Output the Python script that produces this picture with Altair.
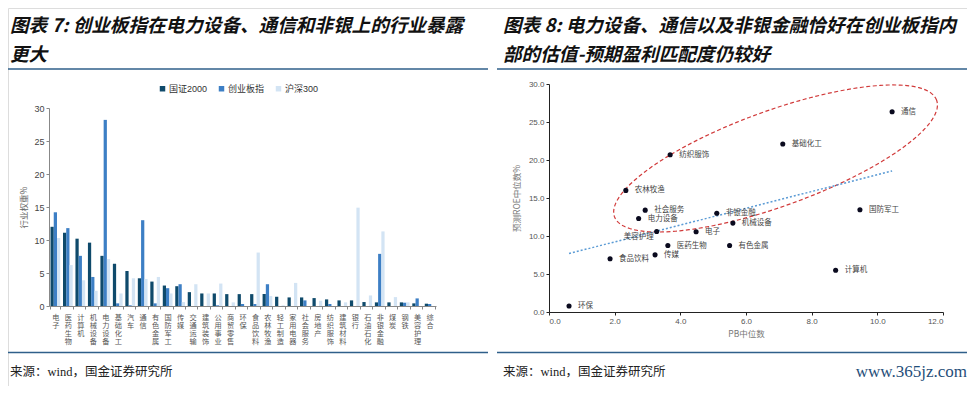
import altair as alt
import pandas as pd

# ---------------- data ----------------
categories = ["电子", "医药生物", "计算机", "机械设备", "电力设备", "基础化工", "汽车", "通信",
              "有色金属", "国防军工", "传媒", "交通运输", "建筑装饰", "公用事业", "商贸零售", "环保",
              "食品饮料", "农林牧渔", "轻工制造", "家用电器", "社会服务", "房地产", "纺织服饰",
              "建筑材料", "银行", "石油石化", "非银金融", "煤炭", "钢铁", "美容护理", "综合"]
guozheng2000 = [12.0, 11.1, 10.2, 9.6, 7.6, 6.4, 5.3, 4.2, 3.7, 3.1, 3.0, 2.1, 1.9, 1.9, 1.8, 1.8,
                1.8, 1.8, 1.4, 1.3, 1.3, 1.2, 1.0, 0.85, 0.85, 0.6, 0.55, 0.55, 0.55, 0.4, 0.35]
chuangye = [14.2, 11.8, 7.6, 4.4, 28.2, 0.4, 0.1, 13.0, 0.4, 2.7, 3.3, 0.0, 0.0, 0.1, 0.0, 0.3,
            0.3, 3.3, 0.0, 0.0, 0.85, 0.0, 0.3, 0.0, 0.0, 0.0, 7.9, 0.0, 0.5, 1.15, 0.3]
hushen300 = [10.3, 6.2, 3.9, 2.3, 7.1, 1.9, 4.2, 4.1, 4.4, 1.9, 0.6, 3.3, 1.9, 3.4, 0.55, 0.0,
             8.1, 1.5, 0.1, 3.5, 0.0, 0.8, 0.0, 0.55, 14.9, 1.6, 11.3, 1.35, 0.55, 0.0, 0.0]
series_names = ["国证2000", "创业板指", "沪深300"]
series_colors = ["#0f4a6b", "#3d7fc5", "#d3e4f4"]

sw_names = ["通信", "基础化工", "纺织服饰", "农林牧渔", "社会服务", "电力设备", "美容护理", "非银金融",
            "机械设备", "电子", "国防军工", "医药生物", "有色金属", "传媒", "食品饮料", "计算机", "环保"]
pb_median = [10.45, 7.12, 3.69, 2.34, 2.93, 2.73, 3.28, 5.11, 5.60, 4.48, 9.47, 3.62, 5.50, 3.23, 1.86, 8.73, 0.61]
roe_median = [26.35, 22.1, 20.7, 16.0, 13.4, 12.3, 10.6, 13.0, 11.7, 10.56, 13.46, 8.75, 8.75, 7.52, 7.0, 5.5, 0.79]

# highlight ellipse (data units): centre and two half-axis vectors
ellipse_center = [6.9, 20.2]
ellipse_u = [4.906, 7.66]
ellipse_v = [-0.491, 5.91]

left_title = ["图表 7: 创业板指在电力设备、通信和非银上的行业暴露", "更大"]
right_title = ["图表 8: 电力设备、通信以及非银金融恰好在创业板指内", "部的估值-预期盈利匹配度仍较好"]
source_text = "来源：wind，国金证券研究所"
watermark = "www.365jz.com"

CJK = "Noto Sans CJK SC"
SANS = "Liberation Sans, Noto Sans CJK SC"
SERIF = "Liberation Serif, Noto Sans CJK SC"

# ---------------- left: grouped bars ----------------
bars_df = pd.DataFrame({
    "industry": categories * 3,
    "series": [s for s in series_names for _ in categories],
    "weight": guozheng2000 + chuangye + hushen300,
})

bars = alt.Chart(bars_df).mark_bar().encode(
    x=alt.X("industry:N", sort=categories,
            scale=alt.Scale(range=[41, 428], paddingInner=0.22, paddingOuter=0.12),
            axis=alt.Axis(orient="bottom", offset=-80, title=None, labelAngle=0,
                          labelExpr="split(datum.label, '')", labelFont=CJK, labelFontSize=7.2,
                          labelLineHeight=8.2, labelColor="#555", labelBaseline="top",
                          labelAlign="center", labelPadding=4, labelOverlap=False,
                          tickBand="extent", tickSize=3,
                          tickColor="#888", domainColor="#888")),
    xOffset=alt.XOffset("series:N", sort=series_names),
    y=alt.Y("weight:Q",
            scale=alt.Scale(domain=[0, 30], range=[298, 100], nice=False),
            axis=alt.Axis(orient="left", offset=-41, values=[0, 5, 10, 15, 20, 25, 30],
                          title="行业权重%", titleFont=CJK, titleFontSize=8.5, titleFontWeight="normal",
                          titleColor="#666", titlePadding=5, labelFont=SANS, labelFontSize=9,
                          labelColor="#444", tickSize=3, tickColor="#888", domainColor="#888",
                          grid=False)),
    color=alt.Color("series:N", sort=series_names,
                    scale=alt.Scale(domain=series_names, range=series_colors),
                    legend=alt.Legend(title=None, orient="none", legendX=150, legendY=76,
                                      direction="horizontal", symbolType="square", symbolSize=30,
                                      symbolStrokeWidth=0, labelFont=SANS, labelFontSize=9,
                                      labelColor="#333", columnPadding=9, labelOffset=2)),
)

# ---------------- right: scatter ----------------
scat_df = pd.DataFrame({"name": sw_names, "pb": pb_median, "roe": roe_median})

xs = alt.X("pb:Q", scale=alt.Scale(domain=[0, 12], range=[541, 935], nice=False),
           axis=alt.Axis(orient="bottom", offset=-74, values=[0, 2, 4, 6, 8, 10, 12], format=".1f",
                         title="PB中位数", titleFont=CJK, titleFontSize=8.5, titleFontWeight="normal",
                         titleColor="#777", titlePadding=4, labelFont=SANS, labelFontSize=8,
                         labelColor="#555", tickSize=3, tickColor="#222", domainColor="#222",
                         grid=False))
ys = alt.Y("roe:Q", scale=alt.Scale(domain=[0, 30], range=[304, 76], nice=False),
           axis=alt.Axis(orient="left", offset=-541, values=[0, 5, 10, 15, 20, 25, 30], format=".1f",
                         title="预测ROE中位数%", titleFont=CJK, titleFontSize=8.5, titleFontWeight="normal",
                         titleColor="#777", titlePadding=7, labelFont=SANS, labelFontSize=8,
                         labelColor="#555", tickSize=3, tickColor="#222", domainColor="#222",
                         grid=False))

cx, cy = ellipse_center
ux, uy = ellipse_u
vx, vy = ellipse_v
ellipse = alt.Chart(alt.sequence(0, 362, 2, as_="t")).transform_calculate(
    pb=f"{cx} + {ux}*cos(datum.t*PI/180) + {vx}*sin(datum.t*PI/180)",
    roe=f"{cy} + {uy}*cos(datum.t*PI/180) + {vy}*sin(datum.t*PI/180)",
).mark_line(color="#d13b3b", strokeDash=[4, 2.5], strokeWidth=1.2).encode(
    x=xs, y=ys, order="t:Q")

trend = alt.Chart(scat_df).transform_regression("pb", "roe").mark_line(
    color="#5b9bd5", strokeDash=[2, 2], strokeWidth=1.5).encode(x=xs, y=ys)

points = alt.Chart(scat_df).mark_circle(size=26, color="#0a0a1e", opacity=1).encode(x=xs, y=ys)

labels = alt.Chart(scat_df).transform_filter(alt.datum.name != "美容护理").mark_text(
    align="left", baseline="middle", dx=9, font=CJK, fontSize=7.5, color="#444").encode(
    x=xs, y=ys, text="name:N")
label_mr = alt.Chart(scat_df).transform_filter(alt.datum.name == "美容护理").mark_text(
    align="right", baseline="middle", dx=-3, dy=6, font=CJK, fontSize=7.5, color="#444").encode(
    x=xs, y=ys, text="name:N")

right = alt.layer(ellipse, trend, points, labels, label_mr)


# ---------------- annotations ----------------
def txt(s, x, y, **kw):
    return alt.Chart(pd.DataFrame({"s": [s]})).mark_text(**kw).encode(
        x=alt.value(x), y=alt.value(y), text="s:N")


def hline(x1, x2, y):
    return alt.Chart(pd.DataFrame({"k": [0]})).mark_rule(color="#2f5f8a", strokeWidth=1.5).encode(
        x=alt.value(x1), x2=alt.value(x2), y=alt.value(y))


title_kw = dict(align="left", baseline="middle", font=CJK, fontSize=18.6, fontWeight="bold",
                fontStyle="italic", color="#111")
src_kw = dict(align="left", baseline="middle", font=SERIF, fontSize=12.5, color="#222")

annots = [
    txt(left_title[0], 2, 18, **title_kw),
    txt(left_title[1], 2, 46.5, **title_kw),
    txt(right_title[0], 495, 18, **title_kw),
    txt(right_title[1], 495, 46.5, **title_kw),
    hline(0, 480, 61),
    hline(489, 959, 61),
    hline(0, 480, 344.5),
    hline(489, 959, 344.5),
    txt(source_text, 2, 364, **src_kw),
    txt(source_text, 495, 364, **src_kw),
    txt(watermark, 959, 364, align="right", baseline="middle", font="Liberation Serif",
        fontSize=17, color="#1f4e79"),
]

chart = alt.layer(bars, right, *annots).resolve_scale(
    x="independent", y="independent"
).properties(
    width=959, height=378, padding=0,
    autosize=alt.AutoSizeParams(type="none"),
).configure_view(stroke=None).configure(background="white")

chart.save("out.html", embed_options={"renderer": "svg", "actions": False})
